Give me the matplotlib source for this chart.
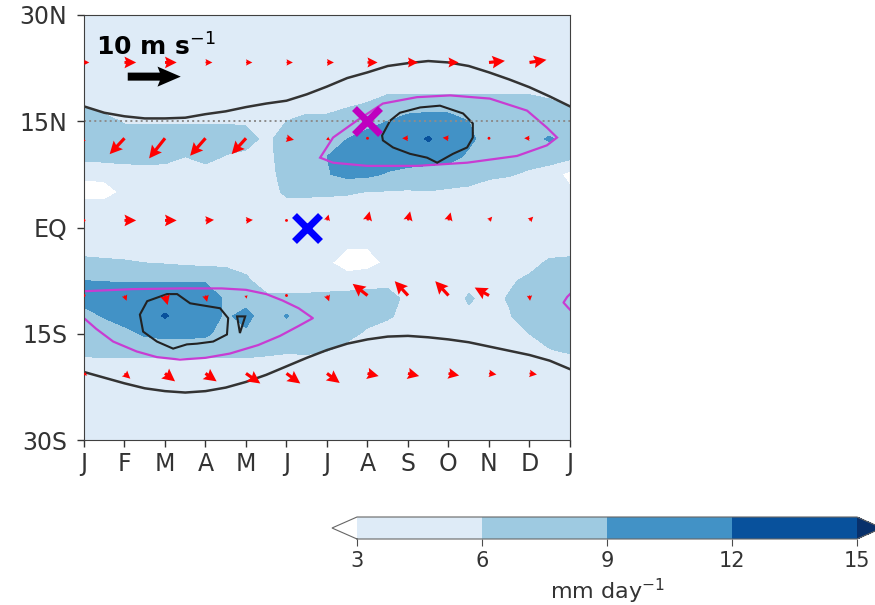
import matplotlib
matplotlib.use("Agg")
import matplotlib.pyplot as plt
import numpy as np

# rainfall grid: columns every half month (Jan..Jan), rows every 2.5 deg from 30N to 30S
MONTHS = np.arange(0, 12.5, 0.5)
LATS = np.arange(30, -30.1, -2.5)

PRECIP = [
    [4.5, 4.5, 4.5, 4.5, 4.5, 4.5, 4.5, 4.5, 4.5, 4.5, 4.5, 4.5, 4.5, 4.5, 4.5, 4.5, 4.5, 4.5, 4.5, 4.5, 4.5, 4.5, 4.5, 4.5, 4.5],
    [4.5, 4.5, 4.5, 4.5, 4.5, 4.5, 4.5, 4.5, 4.5, 4.5, 4.5, 4.5, 4.5, 4.5, 4.5, 4.5, 4.5, 4.5, 4.5, 4.5, 4.5, 4.5, 4.5, 4.5, 4.5],
    [4.5, 4.5, 4.5, 4.5, 4.5, 4.5, 4.5, 4.5, 4.5, 4.5, 4.5, 4.5, 4.5, 4.5, 4.5, 4.5, 4.5, 4.5, 4.5, 4.5, 4.5, 4.5, 4.5, 4.5, 4.5],
    [4.5, 4.5, 4.5, 4.5, 4.5, 4.5, 4.5, 4.5, 4.5, 4.5, 4.5, 4.5, 4.5, 4.5, 4.5, 4.5, 4.5, 4.5, 4.5, 4.5, 4.5, 4.5, 4.5, 4.5, 4.5],
    [4.5, 4.5, 4.5, 4.5, 4.5, 4.5, 4.5, 4.5, 4.5, 4.5, 4.5, 4.5, 4.5, 4.5, 4.5, 4.5, 4.5, 4.5, 4.5, 4.5, 4.5, 4.5, 4.5, 4.5, 4.5],
    [5.6, 4.5, 4.5, 4.5, 4.5, 4.5, 4.5, 4.5, 4.5, 4.5, 4.5, 4.5, 4.8, 5.5, 6.1, 7.5, 7.5, 7.5, 7.5, 7.5, 7.5, 7.5, 7.5, 6.5, 5.6],
    [7.5, 7.0, 5.7, 5.7, 5.7, 5.7, 5.7, 5.7, 5.7, 5.0, 6.0, 7.0, 6.8, 7.5, 7.8, 9.0, 10.0, 10.5, 10.3, 9.0, 7.5, 7.5, 7.5, 7.5, 7.5],
    [7.5, 7.5, 7.5, 7.5, 7.5, 7.5, 7.5, 7.5, 6.8, 5.5, 7.0, 7.5, 7.8, 9.0, 10.3, 10.5, 10.5, 12.3, 10.5, 9.6, 7.8, 7.5, 8.2, 9.3, 7.5],
    [6.8, 7.0, 7.0, 7.2, 7.0, 6.0, 7.0, 5.8, 5.5, 5.0, 7.5, 7.5, 9.0, 10.5, 10.5, 10.5, 10.5, 10.5, 10.0, 8.5, 7.3, 7.3, 7.3, 7.3, 6.8],
    [3.5, 3.8, 4.5, 4.5, 4.5, 4.5, 4.5, 4.5, 4.5, 4.5, 7.5, 7.5, 8.8, 9.8, 9.6, 8.7, 8.0, 7.5, 7.5, 7.5, 6.6, 6.2, 5.5, 4.5, 2.0],
    [2.0, 1.8, 3.6, 4.5, 4.5, 4.5, 4.5, 4.5, 4.5, 4.5, 6.6, 6.6, 6.5, 6.3, 5.9, 5.8, 5.7, 5.9, 5.6, 5.2, 4.5, 4.5, 4.5, 4.5, 3.6],
    [4.5, 4.5, 4.5, 4.5, 4.5, 4.5, 4.5, 4.5, 4.5, 4.5, 4.5, 4.5, 4.5, 4.5, 4.5, 4.5, 4.5, 4.5, 4.5, 4.5, 4.5, 4.5, 4.5, 4.5, 4.5],
    [4.5, 4.5, 4.5, 4.5, 4.5, 4.5, 4.5, 4.5, 4.5, 4.5, 4.5, 4.5, 4.5, 4.5, 4.5, 4.5, 4.5, 4.5, 4.5, 4.5, 4.5, 4.5, 4.5, 4.5, 4.5],
    [4.5, 4.5, 4.5, 4.5, 4.5, 4.5, 4.5, 4.5, 4.5, 4.5, 4.5, 4.5, 4.5, 3.3, 3.2, 4.5, 4.5, 4.5, 4.5, 4.5, 4.5, 4.5, 4.5, 4.5, 4.5],
    [6.8, 6.5, 6.3, 6.0, 5.8, 5.5, 5.3, 5.2, 5.0, 4.5, 4.5, 4.5, 3.5, 1.5, 2.0, 3.5, 4.5, 4.5, 4.5, 4.5, 4.5, 4.5, 5.0, 6.5, 6.8],
    [9.0, 8.9, 8.8, 8.8, 8.8, 8.8, 8.8, 8.3, 6.5, 4.6, 4.5, 4.5, 4.5, 4.5, 4.8, 5.2, 5.0, 4.5, 4.5, 5.2, 4.5, 5.6, 6.6, 7.5, 7.5],
    [10.0, 10.5, 10.5, 10.5, 10.5, 10.5, 10.5, 8.6, 8.0, 6.6, 6.6, 6.6, 6.8, 7.0, 7.2, 7.0, 5.3, 4.5, 4.5, 6.3, 5.2, 6.2, 7.5, 7.5, 7.5],
    [8.0, 9.2, 10.5, 10.5, 12.3, 10.5, 10.5, 8.6, 9.8, 7.5, 9.2, 7.5, 7.5, 7.5, 7.0, 6.4, 5.0, 4.5, 4.5, 5.5, 4.8, 5.8, 7.5, 7.5, 7.5],
    [7.5, 7.5, 8.0, 9.4, 9.9, 9.9, 9.5, 7.8, 8.6, 7.5, 7.5, 7.5, 7.5, 6.8, 5.5, 4.5, 4.5, 4.5, 4.5, 4.5, 4.5, 4.5, 6.0, 7.0, 7.0],
    [6.6, 6.8, 6.8, 6.8, 6.8, 6.8, 6.8, 6.8, 6.8, 6.5, 6.2, 6.3, 6.0, 5.0, 4.5, 4.5, 4.5, 4.5, 4.5, 4.5, 4.5, 4.5, 4.5, 5.8, 6.2],
    [4.5, 4.5, 4.5, 4.5, 4.5, 4.5, 4.5, 4.5, 4.5, 4.5, 4.5, 4.5, 4.5, 4.5, 4.5, 4.5, 4.5, 4.5, 4.5, 4.5, 4.5, 4.5, 4.5, 4.5, 4.5],
    [4.5, 4.5, 4.5, 4.5, 4.5, 4.5, 4.5, 4.5, 4.5, 4.5, 4.5, 4.5, 4.5, 4.5, 4.5, 4.5, 4.5, 4.5, 4.5, 4.5, 4.5, 4.5, 4.5, 4.5, 4.5],
    [4.5, 4.5, 4.5, 4.5, 4.5, 4.5, 4.5, 4.5, 4.5, 4.5, 4.5, 4.5, 4.5, 4.5, 4.5, 4.5, 4.5, 4.5, 4.5, 4.5, 4.5, 4.5, 4.5, 4.5, 4.5],
    [4.5, 4.5, 4.5, 4.5, 4.5, 4.5, 4.5, 4.5, 4.5, 4.5, 4.5, 4.5, 4.5, 4.5, 4.5, 4.5, 4.5, 4.5, 4.5, 4.5, 4.5, 4.5, 4.5, 4.5, 4.5],
    [4.5, 4.5, 4.5, 4.5, 4.5, 4.5, 4.5, 4.5, 4.5, 4.5, 4.5, 4.5, 4.5, 4.5, 4.5, 4.5, 4.5, 4.5, 4.5, 4.5, 4.5, 4.5, 4.5, 4.5, 4.5],
]

LEVELS = [3, 6, 9, 12, 15]
FILL_COLORS = ["white", "#deebf7", "#9ecae1", "#4292c6", "#08519c", "#08306b"]

# poleward edges (lat per half month)
NORTH_EDGE = [17.1, 16.2, 15.7, 15.4, 15.4, 15.5, 16.0, 16.4, 17.0, 17.5, 17.9, 18.8, 19.9,
              21.1, 21.9, 22.8, 23.2, 23.5, 23.3, 22.8, 21.9, 20.9, 19.8, 18.5, 17.1]
SOUTH_EDGE = [-20.4, -21.2, -22.0, -22.7, -23.1, -23.3, -23.1, -22.6, -21.8, -20.8, -19.6, -18.4, -17.3,
              -16.4, -15.8, -15.4, -15.3, -15.5, -15.8, -16.2, -16.8, -17.4, -18.0, -18.8, -20.0]

# magenta outlines
PINK_N_MON = [5.83, 6.15, 6.74, 7.38, 8.22, 9.04, 10.02, 10.94, 11.43, 11.68, 11.43, 10.69, 9.46, 8.22, 6.99, 6.15]
PINK_N_LAT = [9.86, 12.7, 15.1, 17.5, 18.4, 18.65, 18.2, 16.5, 14.1, 12.7, 11.6, 10.1, 9.15, 8.7, 8.7, 9.15]
PINK_S_MON = [0, 1.2, 2.4, 3.4, 4.0, 4.5, 4.9, 5.3, 5.65, 5.3, 4.84, 4.3, 3.6, 3.0, 2.37, 1.8, 1.3, 0.72, 0.3, 0]
PINK_S_LAT = [-9.0, -8.7, -8.6, -8.6, -8.8, -9.4, -10.3, -11.4, -12.8, -13.9, -15.3, -16.6, -17.8, -18.4,
              -18.65, -18.3, -17.5, -16.1, -14.3, -12.8]
PINK_NUB_MON = [12, 11.93, 11.84, 11.95, 12]
PINK_NUB_LAT = [-9.4, -9.8, -10.6, -11.3, -11.6]

# black outlines
CORE_N_MON = [7.36, 7.56, 7.80, 8.30, 8.79, 9.36, 9.60, 9.60, 9.46, 9.11, 8.72, 8.47, 8.05, 7.63, 7.38]
CORE_N_LAT = [12.98, 15.1, 16.2, 16.95, 17.2, 16.1, 14.7, 12.7, 11.3, 10.4, 9.15, 9.86, 10.4, 11.3, 12.3]
CORE_S_MON = [1.38, 1.56, 2.05, 2.30, 2.62, 3.04, 3.36, 3.56, 3.53, 3.19, 2.79, 2.54, 2.20, 1.80, 1.46]
CORE_S_LAT = [-12.3, -10.4, -9.4, -9.4, -10.7, -11.1, -11.4, -12.8, -15.1, -16.1, -16.4, -16.5, -17.1, -16.1, -14.7]
CORE_SMALL_MON = [3.78, 3.98, 3.85]
CORE_SMALL_LAT = [-12.55, -12.55, -14.9]

# low-level wind (m/s)
VEC_MON = np.arange(12)
VEC_LAT = [23.3, 12.6, 1.0, -9.6, -20.6]
U = [
    [1.0, 2.2, 2.2, 1.3, 1.2, 1.2, 1.3, 1.9, 1.9, 1.9, 3.0, 3.2],
    [-1.0, -2.8, -3.0, -2.9, -2.7, 1.4, 0.6, 0.4, -1.1, -1.1, -0.5, -1.0],
    [0.5, 2.2, 2.2, 1.6, 1.3, 0.4, 0.3, 0.4, 0.4, 0.4, 0.6, 0.7],
    [0.1, 0.4, 0.5, 0.3, 0.1, 0.1, 0.4, -2.8, -2.5, -2.5, -2.7, 0.1],
    [0.6, 1.1, 1.9, 2.1, 2.7, 2.6, 2.4, 2.1, 2.1, 2.0, 1.4, 1.4],
]
V = [
    [0, 0, 0, 0, 0, 0, 0, 0, 0, 0, 0.3, 0.5],
    [-0.7, -3.0, -3.8, -3.3, -3.0, -0.3, -0.4, 0, 0, 0.1, 0, 0],
    [0, 0, 0, 0.1, 0.1, 0, 1.1, 1.7, 1.7, 1.5, 0.7, 0.7],
    [-0.4, -1.0, -1.8, -1.2, -0.6, -0.1, -1.1, 2.2, 2.7, 2.7, 1.5, -1.0],
    [-0.4, -1.0, -1.5, -1.5, -1.9, -1.9, -1.8, -0.5, -0.5, -0.4, -0.2, -0.2],
]
KEY_SPEED = 10

X_LABELS = ["J", "F", "M", "A", "M", "J", "J", "A", "S", "O", "N", "D", "J"]
Y_TICKS = [-30, -15, 0, 15, 30]
Y_LABELS = ["30S", "15S", "EQ", "15N", "30N"]

PINK_CROSS = (7, 15)
BLUE_CROSS = (5.5, 0)

fig = plt.figure(figsize=(8.75, 6.05), dpi=100)
ax = fig.add_axes([84 / 875, 165 / 605, 486 / 875, 425 / 605])
# colorbar box includes the two end triangles
cax = fig.add_axes([332 / 875, 66 / 605, 550 / 875, 22 / 605])

cf = ax.contourf(MONTHS, LATS, np.array(PRECIP), levels=LEVELS, colors=FILL_COLORS, extend="both")

ax.axhline(15, color="0.55", ls=":", lw=1.4)

ax.plot(MONTHS, NORTH_EDGE, color="#333333", lw=1.8)
ax.plot(MONTHS, SOUTH_EDGE, color="#333333", lw=1.8)

pink = "#c83cd2"
ax.fill(PINK_N_MON, PINK_N_LAT, fill=False, edgecolor=pink, lw=1.6)
ax.plot(PINK_S_MON, PINK_S_LAT, color=pink, lw=1.6)
ax.plot(PINK_NUB_MON, PINK_NUB_LAT, color=pink, lw=1.6)

ax.fill(CORE_N_MON, CORE_N_LAT, fill=False, edgecolor="#222222", lw=1.5)
ax.fill(CORE_S_MON, CORE_S_LAT, fill=False, edgecolor="#222222", lw=1.5)
ax.fill(CORE_SMALL_MON, CORE_SMALL_LAT, fill=False, edgecolor="#222222", lw=1.5)

mx, my = np.meshgrid(VEC_MON, VEC_LAT)
q_scale = KEY_SPEED / (53 / 486)
ax.quiver(mx, my, np.array(U), np.array(V), color="red", scale=q_scale, scale_units="width",
          units="width", width=0.0065, headwidth=4, headlength=4, headaxislength=3.5, zorder=4)

# reference arrow
ax.quiver([0.09], [0.855], [KEY_SPEED], [0], transform=ax.transAxes, color="k", scale=q_scale,
          scale_units="width", units="width", width=0.0165, headwidth=2.5, headlength=2.9,
          headaxislength=2.6, zorder=5)
ax.text(0.148, 0.925, "10 m s$^{-1}$", transform=ax.transAxes, ha="center", va="center",
        fontsize=18, fontweight="bold", zorder=5)

ax.plot(*PINK_CROSS, marker="x", color="m", ms=19, mew=5, zorder=6)
ax.plot(*BLUE_CROSS, marker="x", color="blue", ms=19, mew=5, zorder=6)

ax.set_xlim(0, 12)
ax.set_ylim(-30, 30)
ax.set_xticks(range(13))
ax.set_xticklabels(X_LABELS)
ax.set_yticks(Y_TICKS)
ax.set_yticklabels(Y_LABELS)
ax.tick_params(labelsize=17, labelcolor="0.2", color="0.2", length=5, width=1)
ax.tick_params(axis="y", pad=7)
for s in ax.spines.values():
    s.set_color("0.25")

cb = fig.colorbar(cf, cax=cax, orientation="horizontal", ticks=LEVELS)
cb.outline.set_edgecolor("0.4")
cb.ax.tick_params(labelsize=15, labelcolor="0.2", color="0.3", length=5)
cb.set_label("mm day$^{-1}$", fontsize=16, color="0.2")

fig.savefig("out.png", dpi=100)
